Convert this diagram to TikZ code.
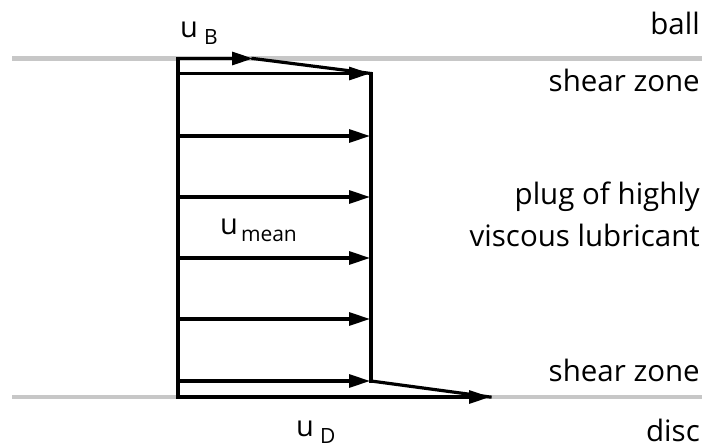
\documentclass[tikz,border=0pt]{standalone}
\usepackage{fontspec}
\setmainfont{Open Sans}
\usetikzlibrary{arrows.meta}
\begin{document}
\begin{tikzpicture}[x=1pt,y=1pt,
  wall/.style={line width=4.5pt,draw=black!22},
  prof/.style={line width=3.2pt,line cap=rect,line join=miter},
  vel/.style={line width=3.2pt,-{Triangle[length=21pt,width=13pt]}},
  lab/.style={anchor=base east,inner sep=0pt,font=\fontsize{29.5}{34}\selectfont},
  ulab/.style={anchor=base west,inner sep=0pt,font=\fontsize{29}{34}\selectfont},
  sub/.style={}]
\useasboundingbox (0,0) rectangle (706,447);
% walls
\coordinate (wTL) at (12,388.5);
\coordinate (wTR) at (702,388.5);
\coordinate (wBL) at (12,50);
\coordinate (wBR) at (702,50);
\draw[wall] (wTL) -- (wTR);
\draw[wall] (wBL) -- (wBR);
% profile points
\coordinate (LT) at (178,388.5);
\coordinate (LB) at (178,50);
\coordinate (RT) at (371,373.5);
\coordinate (RB) at (371,66);
\coordinate (BT) at (253,388.5);
\coordinate (DT) at (490,50);
\draw[prof] (LT) -- (LB);
\draw[prof] (RT) -- (RB);
\draw[prof] (BT) -- (RT);
\draw[prof] (RB) -- (DT);
% velocity arrows
\draw[vel] (LT) -- (BT);
\draw[vel] (LB) -- (DT);
\foreach \y/\n in {373.5/a,311/b,250/c,189/d,128/e,66/f}{
  \coordinate (s\n) at (178,\y);
  \coordinate (t\n) at (370,\y);
  \draw[vel] (s\n) -- (t\n);
}
% labels
\node[lab] (ball) at (700,412) {ball};
\node[lab] (sz1) at (700,355) {shear zone};
\node[lab] (plug) at (700,242) {plug of highly};
\node[lab] (visc) at (700,200) {viscous lubricant};
\node[lab] (sz2) at (700,66) {shear zone};
\node[lab] (disc) at (700,6) {disc};
\node[ulab] (uB) at (180,409) {u\hspace{6pt}\raisebox{-7pt}{\fontsize{21}{24}\selectfont B}};
\node[ulab] (umean) at (220,212) {u\hspace{3pt}\raisebox{-7pt}{\fontsize{21}{24}\selectfont mean}};
\node[ulab] (uD) at (296,11) {u\hspace{6pt}\raisebox{-7pt}{\fontsize{21}{24}\selectfont D}};
\end{tikzpicture}
\end{document}
